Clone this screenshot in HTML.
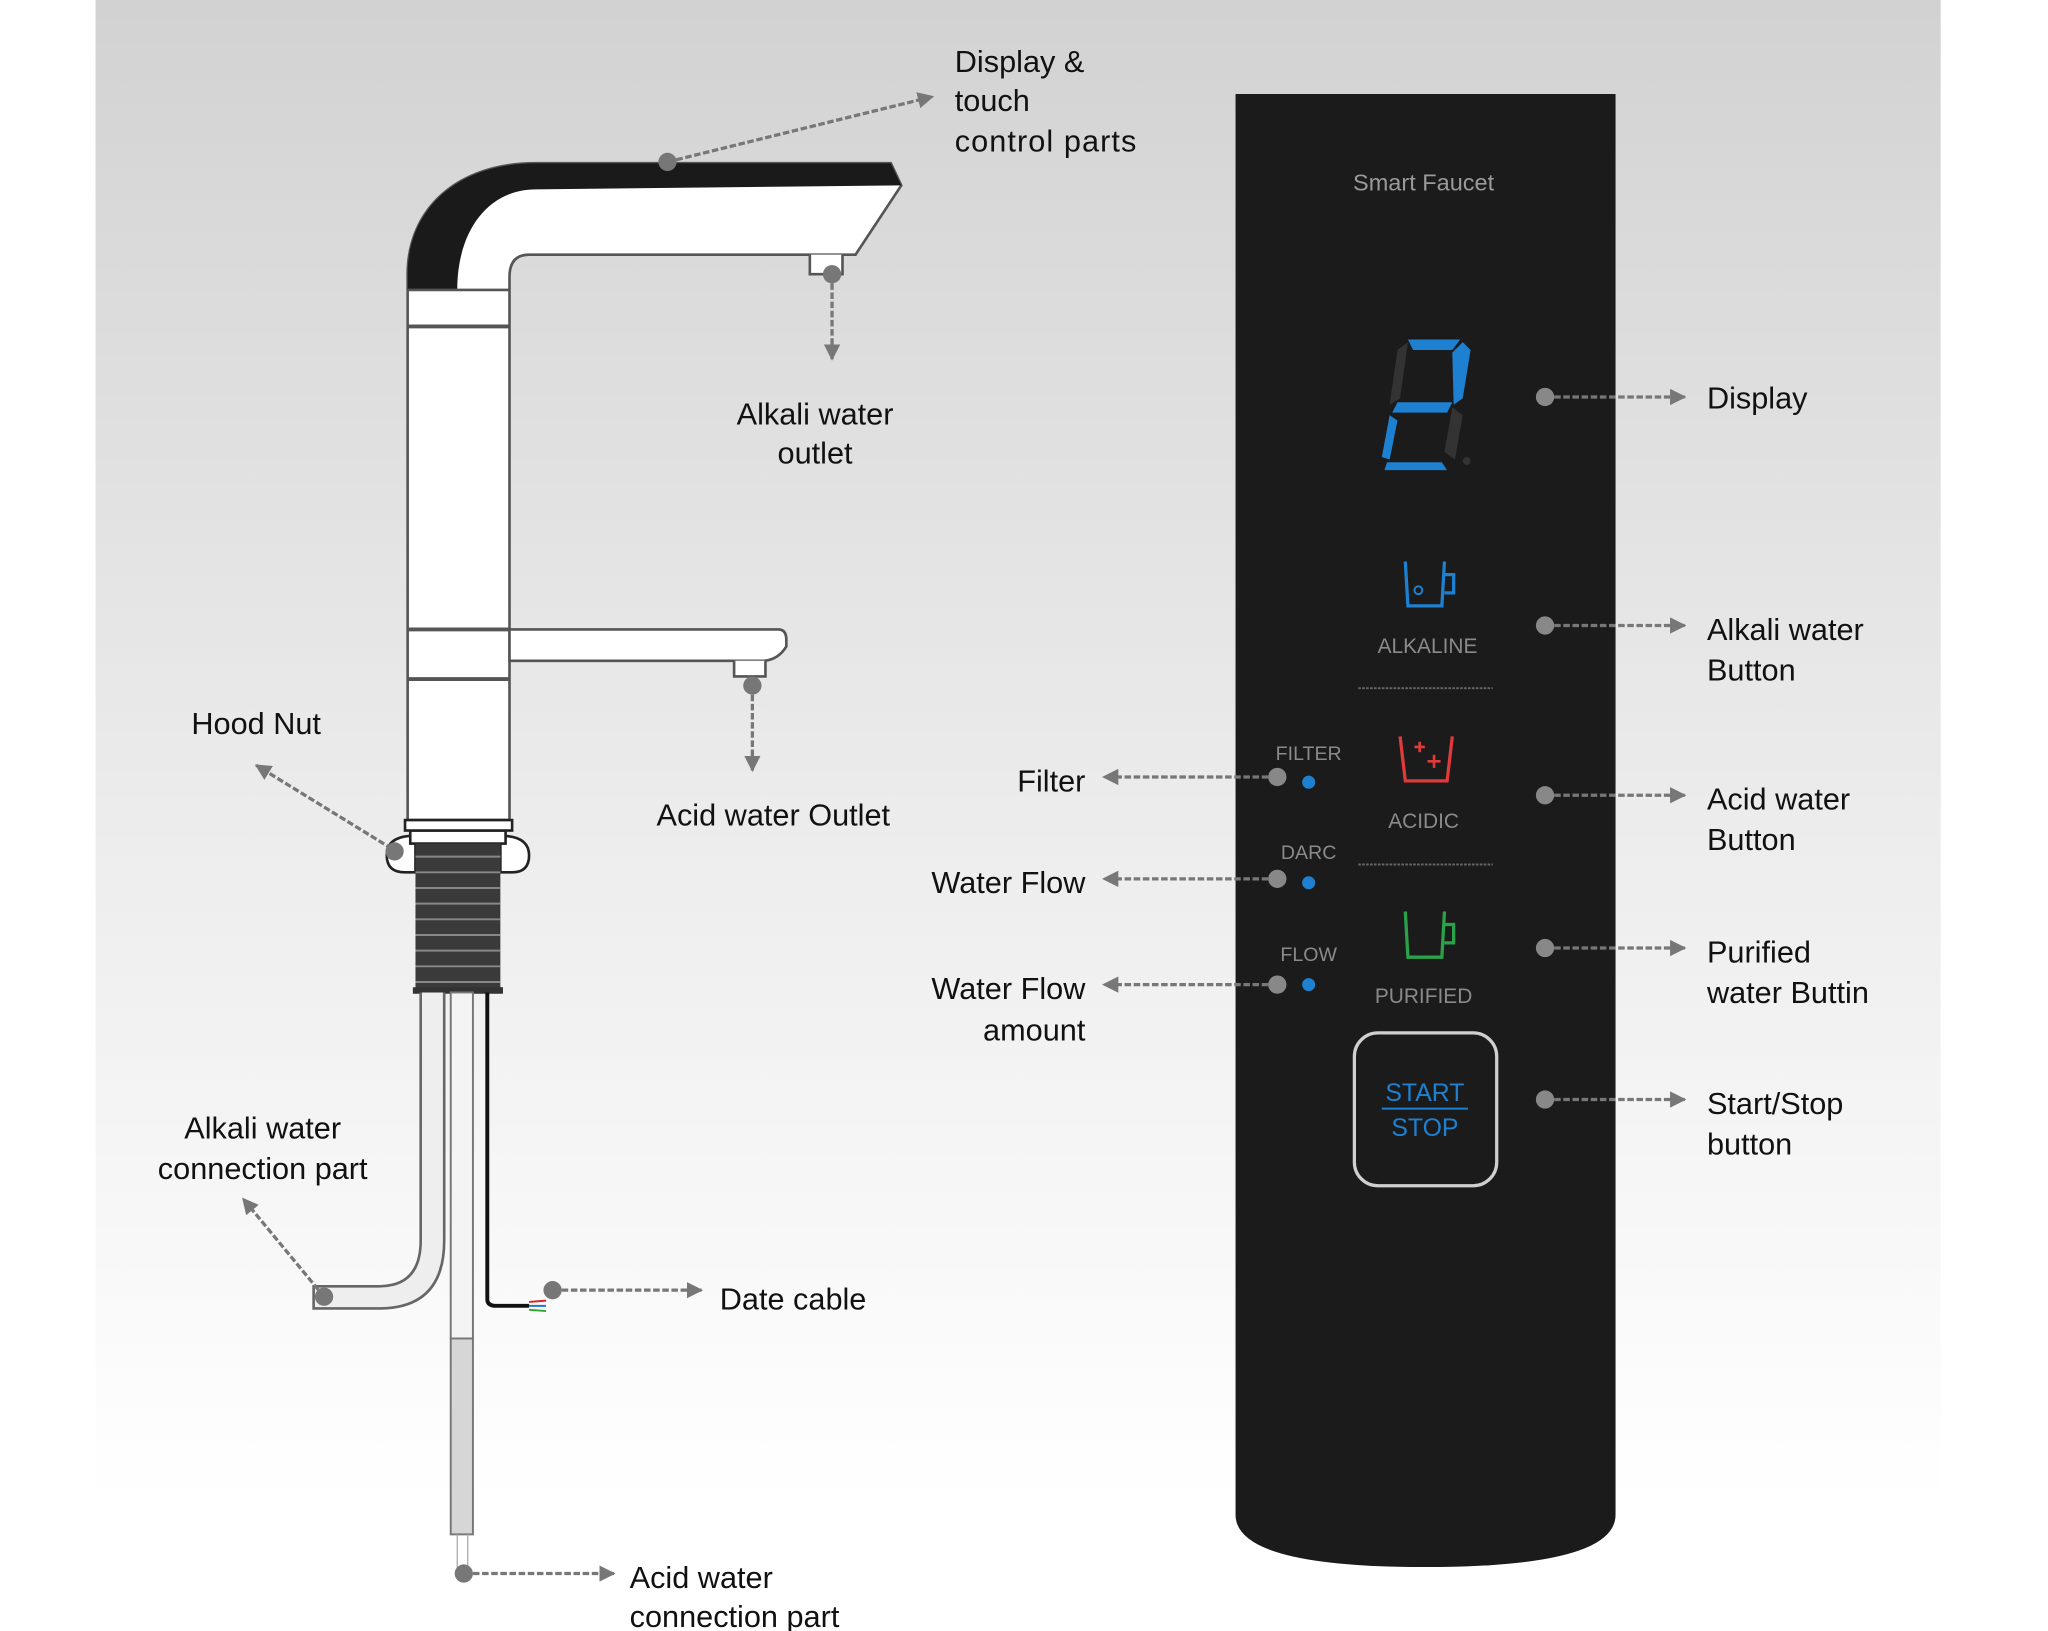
<!DOCTYPE html>
<html><head><meta charset="utf-8"><style>
html,body{margin:0;padding:0;background:#fff}
svg{display:block}
text{font-family:"Liberation Sans",sans-serif}
</style></head><body>
<svg width="2048" height="1631" viewBox="0 0 1568 1249" xmlns="http://www.w3.org/2000/svg">
<defs>
<linearGradient id="bg" x1="0" y1="0" x2="0" y2="1">
<stop offset="0" stop-color="#d2d2d2"/><stop offset="0.5" stop-color="#ececec"/><stop offset="0.92" stop-color="#ffffff"/></linearGradient>
<marker id="ah" viewBox="0 0 10 10" refX="9" refY="5" markerWidth="5" markerHeight="5" orient="auto"><path d="M0,0 L10,5 L0,10 Z" fill="#777"/></marker>
</defs>
<rect x="0" y="0" width="1568" height="1249" fill="#fff"/>
<rect x="73" y="0" width="1413" height="1249" fill="url(#bg)"/>

<!-- faucet -->
<g stroke="#555" stroke-width="2">
<path d="M312,628 L312,210 C312,160 350,125 410,125 L682,125 L690,142 L655,195 L405,195 Q390,195 390,212 L390,628 Z" fill="#fff"/>
<path d="M312,222 L312,210 C312,160 350,125 410,125 L682,125 L690,142 L410,145 C375,145 350,175 350,222 Z" fill="#1a1a1a" stroke="none"/>
<line x1="312" y1="222" x2="390" y2="222"/>
<line x1="312" y1="250" x2="390" y2="250" stroke-width="3"/>
<path d="M620,195 L620,210 L645,210 L645,195" fill="#fff"/>
<path d="M390,482 L596,482 Q602,482 602,490 L602,495 Q596,505 585,506 L390,506 Z" fill="#fff"/>
<line x1="312" y1="482" x2="390" y2="482" stroke-width="3"/>
<line x1="312" y1="520" x2="390" y2="520" stroke-width="3"/>
<path d="M562,506 L562,518 L586,518 L586,506" fill="#fff"/>
<!-- nut -->
<path d="M318,640 Q296,640 296,655 Q296,668 310,668 L318,668 Z" fill="#fff" stroke="#222"/>
<path d="M383,640 Q405,640 405,655 Q405,668 392,668 L383,668 Z" fill="#fff" stroke="#222"/>
<rect x="314" y="636" width="73" height="10" fill="#fff" stroke="#222"/>
<rect x="310" y="628" width="82" height="8" fill="#fff" stroke="#222"/>
</g>
<rect x="318" y="646" width="65" height="112" fill="#3a3a3a"/>
<g stroke="#888" stroke-width="1.5">
<line x1="318" y1="656" x2="383" y2="656"/><line x1="318" y1="668" x2="383" y2="668"/><line x1="318" y1="680" x2="383" y2="680"/><line x1="318" y1="692" x2="383" y2="692"/><line x1="318" y1="704" x2="383" y2="704"/><line x1="318" y1="716" x2="383" y2="716"/><line x1="318" y1="728" x2="383" y2="728"/><line x1="318" y1="740" x2="383" y2="740"/><line x1="318" y1="752" x2="383" y2="752"/>
</g>
<rect x="316" y="756" width="69" height="5" fill="#333"/>
<!-- pipes -->
<path d="M322,760 L322,950 Q322,985 290,985 L240,985 L240,1002 L290,1002 Q340,1002 340,950 L340,760" fill="#eee" stroke="#666" stroke-width="2"/>
<rect x="345" y="760" width="17" height="265" fill="#f4f4f4" stroke="#777" stroke-width="1.5"/>
<rect x="345" y="1025" width="17" height="150" fill="#d6d6d6" stroke="#777" stroke-width="1.5"/>
<line x1="350" y1="1175" x2="350" y2="1205" stroke="#aaa"/><line x1="358" y1="1175" x2="358" y2="1205" stroke="#aaa"/>
<path d="M373,760 L373,995 Q373,1000 380,1000 L405,1000" fill="none" stroke="#111" stroke-width="3"/>
<line x1="405" y1="997" x2="418" y2="996" stroke="#d22" stroke-width="1.5"/><line x1="405" y1="1000" x2="418" y2="1000" stroke="#27c" stroke-width="1.5"/><line x1="405" y1="1003" x2="418" y2="1004" stroke="#3a3" stroke-width="1.5"/>

<!-- left connectors -->
<g stroke="#777" stroke-width="2.5" stroke-dasharray="5,2" fill="none" marker-end="url(#ah)">
<line x1="511" y1="124" x2="714" y2="74"/>
<line x1="637" y1="210" x2="637" y2="275"/>
<line x1="576" y1="525" x2="576" y2="590"/>
<line x1="300" y1="650" x2="196" y2="586"/>
<line x1="248" y1="993" x2="186" y2="918"/>
<line x1="423" y1="988" x2="537" y2="988"/>
<line x1="355" y1="1205" x2="470" y2="1205"/>
</g>
<g fill="#777"><circle cx="511" cy="124" r="7"/><circle cx="637" cy="210" r="7"/><circle cx="576" cy="525" r="7"/><circle cx="302" cy="652" r="7"/><circle cx="248" cy="993" r="7"/><circle cx="423" cy="988" r="7"/><circle cx="355" cy="1205" r="7"/></g>

<g font-size="23.5" fill="#111">
<text x="731" y="55">Display  &amp;</text><text x="731" y="85">touch</text><text x="731" y="116" textLength="139">control parts</text>
<text x="624" y="325" text-anchor="middle">Alkali water</text><text x="624" y="355" text-anchor="middle">outlet</text>
<text x="592" y="632" text-anchor="middle">Acid water Outlet</text>
<text x="196" y="562" text-anchor="middle">Hood Nut</text>
<text x="201" y="872" text-anchor="middle">Alkali water</text><text x="201" y="903" text-anchor="middle">connection part</text>
<text x="551" y="1003">Date cable</text>
<text x="482" y="1216">Acid water</text><text x="482" y="1246">connection part</text>
<text x="831" y="606" text-anchor="end">Filter</text>
<text x="831" y="684" text-anchor="end">Water  Flow</text>
<text x="831" y="765" text-anchor="end">Water Flow</text><text x="831" y="797" text-anchor="end">amount</text>
<text x="1307" y="313">Display</text>
<text x="1307" y="490">Alkali water</text><text x="1307" y="521">Button</text>
<text x="1307" y="620">Acid water</text><text x="1307" y="651">Button</text>
<text x="1307" y="737">Purified</text><text x="1307" y="768">water Buttin</text>
<text x="1307" y="853">Start/Stop</text><text x="1307" y="884">button</text>
</g>

<!-- panel -->
<path d="M946,72 L1237,72 L1237,1160 Q1237,1200 1091,1200 Q946,1200 946,1160 Z" fill="#1c1b1b"/>
<text x="1090" y="146" font-size="18" fill="#9a9a9a" text-anchor="middle">Smart Faucet</text>
<!-- digit -->
<g fill="#333">
<polygon points="1070,268 1078,262 1072,305 1064,310"/>
<polygon points="1112,312 1120,318 1114,352 1106,346"/>
<circle cx="1123" cy="353" r="3"/>
</g>
<g fill="#1e80d0">
<polygon points="1078,260 1118,260 1112,268 1082,268"/>
<polygon points="1120,262 1126,268 1120,305 1113,310 1112,270"/>
<polygon points="1070,308 1112,308 1108,316 1066,316"/>
<polygon points="1064,318 1070,322 1064,352 1058,350"/>
<polygon points="1062,354 1104,354 1108,360 1060,360"/>
</g>
<!-- icons -->
<g fill="none" stroke-width="2.5">
<path d="M1076,430 L1078,464 L1104,464 L1106,430 M1106,440 L1113,440 L1113,454 L1106,454" stroke="#1e80d0"/>
<circle cx="1086" cy="452" r="3" stroke="#1e80d0" stroke-width="1.5"/>
<path d="M1072,564 L1076,598 L1108,598 L1112,564" stroke="#e03a3a"/>
<path d="M1087,568 v8 M1083,572 h8 M1098,578 v10 M1093,583 h10" stroke="#e03a3a" stroke-width="2"/>
<path d="M1076,698 L1078,733 L1104,733 L1106,698 M1106,708 L1113,708 L1113,722 L1106,722" stroke="#2aa24a"/>
</g>
<g font-size="16" fill="#8a8a8a" text-anchor="middle">
<text x="1093" y="500">ALKALINE</text>
<text x="1090" y="634">ACIDIC</text>
<text x="1090" y="768">PURIFIED</text>
<text x="1002" y="582" font-size="15">FILTER</text>
<text x="1002" y="658" font-size="15">DARC</text>
<text x="1002" y="736" font-size="15">FLOW</text>
</g>
<line x1="1040" y1="527" x2="1143" y2="527" stroke="#666" stroke-width="1.5" stroke-dasharray="2,1"/>
<line x1="1040" y1="662" x2="1143" y2="662" stroke="#666" stroke-width="1.5" stroke-dasharray="2,1"/>
<rect x="1037" y="791" width="109" height="117" rx="18" fill="#1c1b1b" stroke="#d0d0d0" stroke-width="2.5"/>
<text x="1091" y="843" font-size="19" fill="#1e80d0" text-anchor="middle">START</text>
<line x1="1058" y1="849" x2="1124" y2="849" stroke="#1e80d0" stroke-width="1.5"/>
<text x="1091" y="870" font-size="19" fill="#1e80d0" text-anchor="middle">STOP</text>
<g fill="#1e80d0"><circle cx="1002" cy="599" r="5"/><circle cx="1002" cy="676" r="5"/><circle cx="1002" cy="754" r="5"/></g>

<!-- panel connectors -->
<g stroke="#777" stroke-width="2.5" stroke-dasharray="5,2" fill="none" marker-end="url(#ah)">
<line x1="978" y1="595" x2="845" y2="595"/>
<line x1="978" y1="673" x2="845" y2="673"/>
<line x1="978" y1="754" x2="845" y2="754"/>
<line x1="1183" y1="304" x2="1290" y2="304"/>
<line x1="1183" y1="479" x2="1290" y2="479"/>
<line x1="1183" y1="609" x2="1290" y2="609"/>
<line x1="1183" y1="726" x2="1290" y2="726"/>
<line x1="1183" y1="842" x2="1290" y2="842"/>
</g>
<g fill="#888"><circle cx="978" cy="595" r="7"/><circle cx="978" cy="673" r="7"/><circle cx="978" cy="754" r="7"/>
<circle cx="1183" cy="304" r="7"/><circle cx="1183" cy="479" r="7"/><circle cx="1183" cy="609" r="7"/><circle cx="1183" cy="726" r="7"/><circle cx="1183" cy="842" r="7"/></g>
</svg>
</body></html>
